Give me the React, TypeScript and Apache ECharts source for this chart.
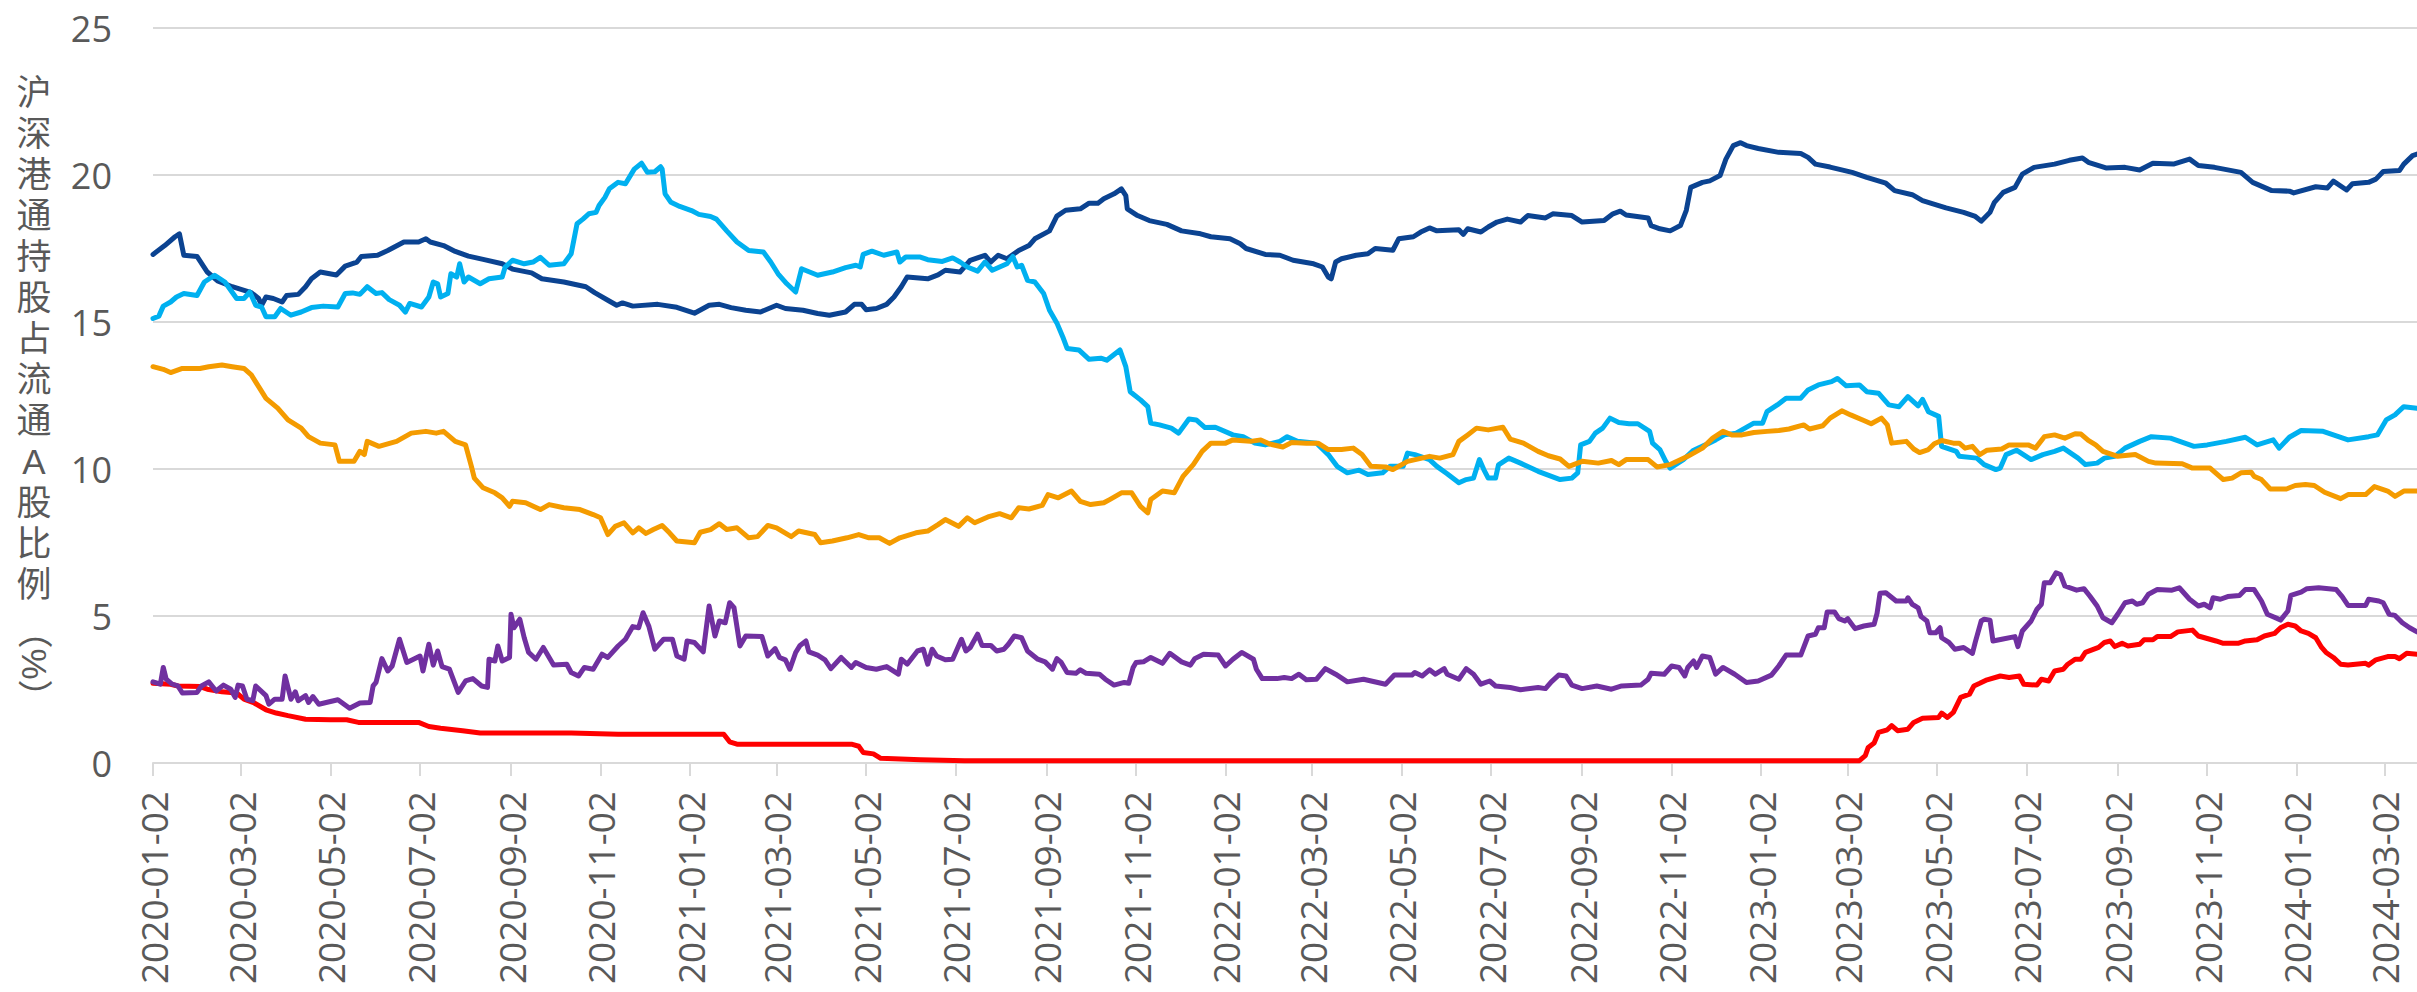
import React, { useEffect, useRef } from "react";
import * as echarts from "echarts";

// ---------- data ----------
const tickDates: string[] = [
  "2020-01-02", "2020-03-02", "2020-05-02", "2020-07-02", "2020-09-02", "2020-11-02",
  "2021-01-02", "2021-03-02", "2021-05-02", "2021-07-02", "2021-09-02", "2021-11-02",
  "2022-01-02", "2022-03-02", "2022-05-02", "2022-07-02", "2022-09-02", "2022-11-02",
  "2023-01-02", "2023-03-02", "2023-05-02", "2023-07-02", "2023-09-02", "2023-11-02",
  "2024-01-02", "2024-03-02",
];
const yTicks: number[] = [0, 5, 10, 15, 20, 25];
const startDate = "2020-01-02";
const endDate = "2024-03-24";

const yTitle = "沪深港通持股占流通A股比例";
const yTitleUnit = "（%）";

const navy: [string, number][] = [
  ["2020-01-02", 17.3], ["2020-01-10", 17.6], ["2020-01-17", 17.9], ["2020-01-20", 18.0], ["2020-01-23", 17.27],
  ["2020-02-01", 17.23], ["2020-02-08", 16.7], ["2020-02-15", 16.4], ["2020-02-25", 16.2], ["2020-03-09", 16.0],
  ["2020-03-14", 15.8], ["2020-03-16", 15.57], ["2020-03-19", 15.85], ["2020-03-24", 15.8], ["2020-03-30", 15.68],
  ["2020-04-02", 15.9], ["2020-04-10", 15.94], ["2020-04-15", 16.2], ["2020-04-19", 16.47], ["2020-04-25", 16.7],
  ["2020-05-06", 16.6], ["2020-05-12", 16.9], ["2020-05-20", 17.04], ["2020-05-23", 17.23], ["2020-06-03", 17.27],
  ["2020-06-10", 17.43], ["2020-06-21", 17.72], ["2020-07-01", 17.72], ["2020-07-06", 17.83], ["2020-07-09", 17.72],
  ["2020-07-18", 17.6], ["2020-07-26", 17.4], ["2020-08-04", 17.24], ["2020-08-14", 17.13], ["2020-08-27", 16.98],
  ["2020-09-03", 16.8], ["2020-09-16", 16.67], ["2020-09-23", 16.47], ["2020-10-08", 16.36], ["2020-10-23", 16.2],
  ["2020-10-29", 16.0], ["2020-11-07", 15.74], ["2020-11-13", 15.57], ["2020-11-17", 15.65], ["2020-11-24", 15.54],
  ["2020-12-11", 15.6], ["2020-12-24", 15.5], ["2021-01-05", 15.3], ["2021-01-15", 15.57], ["2021-01-22", 15.6],
  ["2021-01-30", 15.49], ["2021-02-09", 15.4], ["2021-02-19", 15.34], ["2021-03-02", 15.57], ["2021-03-08", 15.46],
  ["2021-03-20", 15.4], ["2021-03-30", 15.29], ["2021-04-07", 15.23], ["2021-04-18", 15.34], ["2021-04-24", 15.6],
  ["2021-04-29", 15.6], ["2021-05-02", 15.42], ["2021-05-09", 15.46], ["2021-05-16", 15.6], ["2021-05-21", 15.85],
  ["2021-05-26", 16.2], ["2021-05-30", 16.53], ["2021-06-13", 16.47], ["2021-06-20", 16.6], ["2021-06-25", 16.76],
  ["2021-07-05", 16.7], ["2021-07-12", 17.1], ["2021-07-22", 17.27], ["2021-07-26", 17.04], ["2021-07-31", 17.27],
  ["2021-08-06", 17.15], ["2021-08-14", 17.43], ["2021-08-21", 17.6], ["2021-08-25", 17.83], ["2021-09-04", 18.1],
  ["2021-09-09", 18.6], ["2021-09-15", 18.8], ["2021-09-25", 18.85], ["2021-10-01", 19.04], ["2021-10-07", 19.04],
  ["2021-10-11", 19.19], ["2021-10-18", 19.36], ["2021-10-23", 19.53], ["2021-10-26", 19.3], ["2021-10-27", 18.85],
  ["2021-11-03", 18.62], ["2021-11-11", 18.45], ["2021-11-23", 18.32], ["2021-12-03", 18.1], ["2021-12-16", 18.0],
  ["2021-12-23", 17.9], ["2022-01-05", 17.83], ["2022-01-12", 17.66], ["2022-01-16", 17.5], ["2022-01-29", 17.3],
  ["2022-02-08", 17.27], ["2022-02-17", 17.1], ["2022-03-03", 16.98], ["2022-03-09", 16.87], ["2022-03-13", 16.53],
  ["2022-03-15", 16.47], ["2022-03-18", 17.04], ["2022-03-22", 17.15], ["2022-04-01", 17.27], ["2022-04-09", 17.32],
  ["2022-04-14", 17.5], ["2022-04-26", 17.44], ["2022-04-30", 17.83], ["2022-05-10", 17.9], ["2022-05-15", 18.06],
  ["2022-05-21", 18.2], ["2022-05-26", 18.1], ["2022-06-10", 18.14], ["2022-06-13", 17.98], ["2022-06-16", 18.17],
  ["2022-06-25", 18.06], ["2022-06-30", 18.23], ["2022-07-06", 18.4], ["2022-07-13", 18.5], ["2022-07-22", 18.4],
  ["2022-07-27", 18.62], ["2022-08-08", 18.54], ["2022-08-13", 18.68], ["2022-08-26", 18.62], ["2022-09-02", 18.4],
  ["2022-09-17", 18.45], ["2022-09-23", 18.68], ["2022-09-28", 18.77], ["2022-10-02", 18.64], ["2022-10-17", 18.54],
  ["2022-10-19", 18.28], ["2022-10-25", 18.17], ["2022-11-01", 18.1], ["2022-11-08", 18.28], ["2022-11-12", 18.8],
  ["2022-11-15", 19.58], ["2022-11-23", 19.75], ["2022-11-28", 19.8], ["2022-12-05", 19.98], ["2022-12-09", 20.54],
  ["2022-12-14", 21.0], ["2022-12-19", 21.1], ["2022-12-23", 21.0], ["2022-12-31", 20.9], ["2023-01-14", 20.77],
  ["2023-01-29", 20.73], ["2023-02-03", 20.6], ["2023-02-08", 20.37], ["2023-02-18", 20.27], ["2023-03-05", 20.09],
  ["2023-03-15", 19.92], ["2023-03-28", 19.72], ["2023-04-03", 19.47], ["2023-04-15", 19.33], ["2023-04-22", 19.13],
  ["2023-05-03", 18.96], ["2023-05-08", 18.88], ["2023-05-20", 18.73], ["2023-05-28", 18.59], ["2023-06-01", 18.43],
  ["2023-06-07", 18.73], ["2023-06-10", 19.07], ["2023-06-16", 19.41], ["2023-06-24", 19.58], ["2023-06-29", 20.03],
  ["2023-07-07", 20.26], ["2023-07-21", 20.37], ["2023-07-31", 20.5], ["2023-08-09", 20.58], ["2023-08-13", 20.43],
  ["2023-08-25", 20.24], ["2023-09-07", 20.26], ["2023-09-17", 20.17], ["2023-09-26", 20.4], ["2023-10-10", 20.37],
  ["2023-10-21", 20.54], ["2023-10-27", 20.32], ["2023-11-07", 20.26], ["2023-11-25", 20.09], ["2023-12-03", 19.75],
  ["2023-12-16", 19.47], ["2023-12-28", 19.45], ["2023-12-31", 19.39], ["2024-01-15", 19.6], ["2024-01-23", 19.56],
  ["2024-01-27", 19.79], ["2024-02-05", 19.49], ["2024-02-09", 19.7], ["2024-02-20", 19.75], ["2024-02-25", 19.86],
  ["2024-03-01", 20.12], ["2024-03-12", 20.15], ["2024-03-15", 20.37], ["2024-03-21", 20.66], ["2024-03-24", 20.71],
];

const lightBlue: [string, number][] = [
  ["2020-01-02", 15.12], ["2020-01-06", 15.2], ["2020-01-09", 15.54], ["2020-01-14", 15.68], ["2020-01-18", 15.85],
  ["2020-01-23", 15.97], ["2020-02-01", 15.9], ["2020-02-06", 16.36], ["2020-02-13", 16.59], ["2020-02-20", 16.36],
  ["2020-02-28", 15.8], ["2020-03-04", 15.8], ["2020-03-08", 16.02], ["2020-03-12", 15.57], ["2020-03-16", 15.51],
  ["2020-03-19", 15.18], ["2020-03-25", 15.18], ["2020-03-29", 15.46], ["2020-04-05", 15.23], ["2020-04-12", 15.34],
  ["2020-04-19", 15.49], ["2020-04-27", 15.54], ["2020-05-07", 15.51], ["2020-05-12", 15.97], ["2020-05-17", 15.99],
  ["2020-05-22", 15.94], ["2020-05-27", 16.2], ["2020-06-02", 15.97], ["2020-06-06", 16.0], ["2020-06-11", 15.76],
  ["2020-06-18", 15.57], ["2020-06-22", 15.34], ["2020-06-25", 15.63], ["2020-07-03", 15.51], ["2020-07-08", 15.85],
  ["2020-07-11", 16.36], ["2020-07-14", 16.3], ["2020-07-16", 15.85], ["2020-07-21", 15.97], ["2020-07-23", 16.64],
  ["2020-07-27", 16.53], ["2020-07-29", 16.98], ["2020-08-01", 16.36], ["2020-08-04", 16.53], ["2020-08-12", 16.3],
  ["2020-08-18", 16.47], ["2020-08-27", 16.53], ["2020-08-29", 16.87], ["2020-09-03", 17.1], ["2020-09-11", 16.98],
  ["2020-09-17", 17.04], ["2020-09-22", 17.2], ["2020-09-28", 16.93], ["2020-10-08", 16.98], ["2020-10-13", 17.32],
  ["2020-10-17", 18.34], ["2020-10-21", 18.5], ["2020-10-25", 18.68], ["2020-10-30", 18.73], ["2020-11-01", 18.96],
  ["2020-11-05", 19.24], ["2020-11-08", 19.53], ["2020-11-14", 19.75], ["2020-11-19", 19.7], ["2020-11-25", 20.2],
  ["2020-11-30", 20.4], ["2020-12-04", 20.09], ["2020-12-09", 20.11], ["2020-12-13", 20.28], ["2020-12-14", 20.2],
  ["2020-12-16", 19.36], ["2020-12-20", 19.07], ["2020-12-26", 18.93], ["2021-01-03", 18.79], ["2021-01-08", 18.66],
  ["2021-01-16", 18.59], ["2021-01-20", 18.5], ["2021-01-27", 18.1], ["2021-02-03", 17.72], ["2021-02-11", 17.43],
  ["2021-02-21", 17.38], ["2021-02-26", 17.04], ["2021-03-03", 16.64], ["2021-03-09", 16.3], ["2021-03-15", 16.02],
  ["2021-03-19", 16.81], ["2021-03-30", 16.59], ["2021-04-09", 16.7], ["2021-04-18", 16.85], ["2021-04-25", 16.93],
  ["2021-04-28", 16.87], ["2021-04-30", 17.3], ["2021-05-06", 17.41], ["2021-05-14", 17.27], ["2021-05-23", 17.38],
  ["2021-05-25", 17.04], ["2021-05-29", 17.21], ["2021-06-08", 17.21], ["2021-06-13", 17.12], ["2021-06-23", 17.06],
  ["2021-06-30", 17.18], ["2021-07-05", 17.04], ["2021-07-10", 16.87], ["2021-07-17", 16.73], ["2021-07-22", 17.04],
  ["2021-07-27", 16.76], ["2021-08-01", 16.87], ["2021-08-06", 16.98], ["2021-08-10", 17.23], ["2021-08-13", 16.87],
  ["2021-08-16", 16.93], ["2021-08-20", 16.42], ["2021-08-25", 16.36], ["2021-08-31", 15.97], ["2021-09-04", 15.4],
  ["2021-09-09", 14.97], ["2021-09-13", 14.5], ["2021-09-16", 14.1], ["2021-09-24", 14.05], ["2021-10-01", 13.73],
  ["2021-10-09", 13.77], ["2021-10-13", 13.7], ["2021-10-22", 14.05], ["2021-10-26", 13.48], ["2021-10-29", 12.63],
  ["2021-11-05", 12.35], ["2021-11-10", 12.12], ["2021-11-12", 11.56], ["2021-11-18", 11.5], ["2021-11-26", 11.39],
  ["2021-12-01", 11.22], ["2021-12-08", 11.7], ["2021-12-13", 11.67], ["2021-12-19", 11.41], ["2021-12-26", 11.42],
  ["2022-01-07", 11.16], ["2022-01-14", 11.1], ["2022-01-22", 10.88], ["2022-01-29", 10.82], ["2022-02-08", 10.94],
  ["2022-02-13", 11.1], ["2022-02-20", 10.94], ["2022-03-05", 10.88], ["2022-03-13", 10.49], ["2022-03-19", 10.09],
  ["2022-03-26", 9.87], ["2022-04-03", 9.96], ["2022-04-09", 9.81], ["2022-04-19", 9.87], ["2022-04-24", 10.09],
  ["2022-05-03", 10.09], ["2022-05-06", 10.54], ["2022-05-11", 10.49], ["2022-05-21", 10.32], ["2022-05-26", 10.09],
  ["2022-06-02", 9.84], ["2022-06-10", 9.53], ["2022-06-15", 9.64], ["2022-06-20", 9.69], ["2022-06-24", 10.32],
  ["2022-06-27", 9.98], ["2022-06-30", 9.69], ["2022-07-05", 9.69], ["2022-07-07", 10.14], ["2022-07-14", 10.37],
  ["2022-07-22", 10.2], ["2022-08-03", 9.92], ["2022-08-18", 9.64], ["2022-08-26", 9.69], ["2022-08-30", 9.87],
  ["2022-09-01", 10.82], ["2022-09-07", 10.94], ["2022-09-11", 11.22], ["2022-09-16", 11.39], ["2022-09-21", 11.73],
  ["2022-09-27", 11.58], ["2022-10-04", 11.54], ["2022-10-10", 11.54], ["2022-10-18", 11.28], ["2022-10-20", 10.88],
  ["2022-10-25", 10.66], ["2022-10-29", 10.26], ["2022-11-01", 10.03], ["2022-11-10", 10.32], ["2022-11-17", 10.64],
  ["2022-11-25", 10.82], ["2022-12-02", 10.99], ["2022-12-08", 11.16], ["2022-12-16", 11.22], ["2022-12-28", 11.56],
  ["2023-01-03", 11.56], ["2023-01-06", 11.95], ["2023-01-13", 12.18], ["2023-01-19", 12.41], ["2023-01-29", 12.41],
  ["2023-02-03", 12.69], ["2023-02-10", 12.86], ["2023-02-19", 12.97], ["2023-02-23", 13.08], ["2023-03-01", 12.83],
  ["2023-03-10", 12.86], ["2023-03-15", 12.63], ["2023-03-23", 12.58], ["2023-03-30", 12.18], ["2023-04-06", 12.12],
  ["2023-04-12", 12.46], ["2023-04-19", 12.15], ["2023-04-22", 12.37], ["2023-04-26", 11.95], ["2023-05-03", 11.79],
  ["2023-05-05", 10.77], ["2023-05-15", 10.6], ["2023-05-17", 10.43], ["2023-05-29", 10.37], ["2023-06-03", 10.15],
  ["2023-06-11", 9.98], ["2023-06-14", 10.03], ["2023-06-18", 10.49], ["2023-06-25", 10.64], ["2023-07-05", 10.32],
  ["2023-07-13", 10.49], ["2023-07-21", 10.6], ["2023-07-27", 10.71], ["2023-08-06", 10.37], ["2023-08-11", 10.15],
  ["2023-08-19", 10.2], ["2023-08-24", 10.37], ["2023-08-31", 10.43], ["2023-09-07", 10.71], ["2023-09-17", 10.94],
  ["2023-09-25", 11.1], ["2023-10-08", 11.05], ["2023-10-24", 10.77], ["2023-11-02", 10.82], ["2023-11-15", 10.94],
  ["2023-11-28", 11.08], ["2023-12-06", 10.82], ["2023-12-17", 10.99], ["2023-12-21", 10.71], ["2023-12-28", 11.08],
  ["2024-01-05", 11.31], ["2024-01-20", 11.28], ["2024-01-27", 11.16], ["2024-02-06", 10.99], ["2024-02-20", 11.1],
  ["2024-02-26", 11.16], ["2024-03-03", 11.67], ["2024-03-09", 11.84], ["2024-03-15", 12.12], ["2024-03-24", 12.07],
];

const orange: [string, number][] = [
  ["2020-01-02", 13.48], ["2020-01-09", 13.39], ["2020-01-14", 13.28], ["2020-01-22", 13.42], ["2020-02-03", 13.42],
  ["2020-02-09", 13.48], ["2020-02-18", 13.54], ["2020-02-25", 13.48], ["2020-03-04", 13.42], ["2020-03-09", 13.2],
  ["2020-03-14", 12.8], ["2020-03-19", 12.4], ["2020-03-27", 12.07], ["2020-04-03", 11.67], ["2020-04-12", 11.39],
  ["2020-04-17", 11.1], ["2020-04-25", 10.88], ["2020-05-05", 10.82], ["2020-05-08", 10.26], ["2020-05-18", 10.26],
  ["2020-05-22", 10.6], ["2020-05-25", 10.49], ["2020-05-27", 10.94], ["2020-06-04", 10.77], ["2020-06-16", 10.94],
  ["2020-06-26", 11.22], ["2020-07-06", 11.28], ["2020-07-13", 11.22], ["2020-07-18", 11.28], ["2020-07-26", 10.94],
  ["2020-08-02", 10.82], ["2020-08-06", 10.09], ["2020-08-08", 9.69], ["2020-08-14", 9.36], ["2020-08-22", 9.19],
  ["2020-08-27", 9.02], ["2020-09-01", 8.73], ["2020-09-03", 8.9], ["2020-09-12", 8.85], ["2020-09-22", 8.62],
  ["2020-09-28", 8.79], ["2020-10-08", 8.68], ["2020-10-19", 8.62], ["2020-10-28", 8.45], ["2020-11-02", 8.34],
  ["2020-11-07", 7.77], ["2020-11-12", 8.05], ["2020-11-18", 8.17], ["2020-11-24", 7.83], ["2020-11-28", 8.0],
  ["2020-12-03", 7.81], ["2020-12-08", 7.94], ["2020-12-14", 8.08], ["2020-12-19", 7.83], ["2020-12-24", 7.55],
  ["2021-01-05", 7.49], ["2021-01-09", 7.85], ["2021-01-16", 7.94], ["2021-01-22", 8.14], ["2021-01-27", 7.94],
  ["2021-02-03", 8.0], ["2021-02-11", 7.66], ["2021-02-17", 7.7], ["2021-02-24", 8.08], ["2021-03-02", 8.0],
  ["2021-03-12", 7.7], ["2021-03-17", 7.89], ["2021-03-28", 7.77], ["2021-04-01", 7.49], ["2021-04-09", 7.55],
  ["2021-04-19", 7.66], ["2021-04-27", 7.77], ["2021-05-04", 7.66], ["2021-05-11", 7.66], ["2021-05-18", 7.47],
  ["2021-05-25", 7.66], ["2021-06-05", 7.83], ["2021-06-13", 7.89], ["2021-06-20", 8.11], ["2021-06-25", 8.28],
  ["2021-07-04", 8.05], ["2021-07-10", 8.34], ["2021-07-15", 8.17], ["2021-07-24", 8.37], ["2021-08-01", 8.48],
  ["2021-08-09", 8.34], ["2021-08-14", 8.68], ["2021-08-21", 8.64], ["2021-08-30", 8.76], ["2021-09-03", 9.13],
  ["2021-09-10", 9.02], ["2021-09-19", 9.25], ["2021-09-25", 8.9], ["2021-10-02", 8.79], ["2021-10-11", 8.85],
  ["2021-10-15", 8.96], ["2021-10-23", 9.19], ["2021-10-30", 9.19], ["2021-11-05", 8.73], ["2021-11-10", 8.51],
  ["2021-11-12", 8.96], ["2021-11-20", 9.25], ["2021-11-28", 9.19], ["2021-12-04", 9.75], ["2021-12-11", 10.15],
  ["2021-12-17", 10.6], ["2021-12-23", 10.88], ["2022-01-02", 10.88], ["2022-01-07", 10.99], ["2022-01-19", 10.94],
  ["2022-01-26", 10.99], ["2022-02-01", 10.85], ["2022-02-10", 10.75], ["2022-02-16", 10.9], ["2022-02-26", 10.88],
  ["2022-03-06", 10.88], ["2022-03-13", 10.66], ["2022-03-22", 10.66], ["2022-03-30", 10.71], ["2022-04-05", 10.49],
  ["2022-04-11", 10.09], ["2022-04-21", 10.07], ["2022-04-26", 9.98], ["2022-05-06", 10.26], ["2022-05-21", 10.43],
  ["2022-05-28", 10.37], ["2022-06-06", 10.49], ["2022-06-10", 10.94], ["2022-06-16", 11.16], ["2022-06-22", 11.39],
  ["2022-06-30", 11.33], ["2022-07-10", 11.42], ["2022-07-15", 11.02], ["2022-07-24", 10.88], ["2022-08-03", 10.6],
  ["2022-08-10", 10.45], ["2022-08-18", 10.34], ["2022-08-24", 10.09], ["2022-09-02", 10.26], ["2022-09-13", 10.2],
  ["2022-09-22", 10.29], ["2022-09-27", 10.15], ["2022-10-02", 10.32], ["2022-10-17", 10.32], ["2022-10-23", 10.07],
  ["2022-11-01", 10.15], ["2022-11-13", 10.43], ["2022-11-23", 10.71], ["2022-11-30", 11.05], ["2022-12-07", 11.28],
  ["2022-12-13", 11.16], ["2022-12-20", 11.16], ["2022-12-28", 11.24], ["2023-01-06", 11.28], ["2023-01-14", 11.31],
  ["2023-01-21", 11.36], ["2023-01-31", 11.5], ["2023-02-04", 11.36], ["2023-02-13", 11.47], ["2023-02-18", 11.73],
  ["2023-02-26", 11.98], ["2023-03-04", 11.84], ["2023-03-13", 11.65], ["2023-03-18", 11.54], ["2023-03-25", 11.73],
  ["2023-03-29", 11.5], ["2023-04-01", 10.88], ["2023-04-11", 10.94], ["2023-04-16", 10.68], ["2023-04-20", 10.56],
  ["2023-04-26", 10.66], ["2023-04-30", 10.86], ["2023-05-05", 10.97], ["2023-05-13", 10.88], ["2023-05-17", 10.88],
  ["2023-05-21", 10.71], ["2023-05-26", 10.77], ["2023-05-31", 10.49], ["2023-06-05", 10.64], ["2023-06-15", 10.68],
  ["2023-06-20", 10.82], ["2023-07-03", 10.82], ["2023-07-08", 10.71], ["2023-07-14", 11.1], ["2023-07-21", 11.16],
  ["2023-07-28", 11.05], ["2023-08-04", 11.2], ["2023-08-08", 11.19], ["2023-08-13", 10.97], ["2023-08-18", 10.82],
  ["2023-08-23", 10.6], ["2023-09-02", 10.43], ["2023-09-14", 10.49], ["2023-09-23", 10.26], ["2023-09-28", 10.2],
  ["2023-10-16", 10.18], ["2023-10-23", 10.03], ["2023-11-04", 10.03], ["2023-11-13", 9.64], ["2023-11-19", 9.69],
  ["2023-11-25", 9.87], ["2023-12-02", 9.89], ["2023-12-04", 9.75], ["2023-12-09", 9.64], ["2023-12-15", 9.32],
  ["2023-12-26", 9.32], ["2024-01-01", 9.44], ["2024-01-08", 9.47], ["2024-01-14", 9.44], ["2024-01-21", 9.21],
  ["2024-02-01", 8.99], ["2024-02-06", 9.13], ["2024-02-18", 9.13], ["2024-02-24", 9.4], ["2024-03-04", 9.25],
  ["2024-03-09", 9.07], ["2024-03-15", 9.25], ["2024-03-24", 9.25],
];

const purple: [string, number][] = [
  ["2020-01-02", 2.76], ["2020-01-07", 2.68], ["2020-01-09", 3.25], ["2020-01-11", 2.85], ["2020-01-15", 2.68],
  ["2020-01-19", 2.62], ["2020-01-22", 2.38], ["2020-02-01", 2.4], ["2020-02-04", 2.62], ["2020-02-09", 2.76],
  ["2020-02-14", 2.45], ["2020-02-19", 2.65], ["2020-02-24", 2.51], ["2020-02-27", 2.23], ["2020-02-29", 2.65],
  ["2020-03-03", 2.62], ["2020-03-06", 2.17], ["2020-03-10", 2.12], ["2020-03-12", 2.62], ["2020-03-19", 2.29],
  ["2020-03-21", 2.0], ["2020-03-25", 2.17], ["2020-03-30", 2.17], ["2020-04-01", 2.96], ["2020-04-05", 2.17],
  ["2020-04-08", 2.42], ["2020-04-10", 2.12], ["2020-04-15", 2.29], ["2020-04-17", 2.06], ["2020-04-20", 2.26],
  ["2020-04-24", 2.0], ["2020-05-07", 2.15], ["2020-05-15", 1.86], ["2020-05-22", 2.04], ["2020-05-29", 2.06],
  ["2020-05-31", 2.62], ["2020-06-02", 2.74], ["2020-06-06", 3.55], ["2020-06-10", 3.13], ["2020-06-13", 3.3],
  ["2020-06-18", 4.21], ["2020-06-23", 3.42], ["2020-07-02", 3.64], ["2020-07-04", 3.13], ["2020-07-08", 4.04],
  ["2020-07-11", 3.33], ["2020-07-14", 3.81], ["2020-07-17", 3.28], ["2020-07-22", 3.19], ["2020-07-28", 2.4],
  ["2020-08-02", 2.79], ["2020-08-07", 2.87], ["2020-08-13", 2.62], ["2020-08-17", 2.57], ["2020-08-18", 3.53],
  ["2020-08-22", 3.47], ["2020-08-24", 3.98], ["2020-08-27", 3.47], ["2020-09-01", 3.59], ["2020-09-02", 5.06],
  ["2020-09-04", 4.6], ["2020-09-08", 4.89], ["2020-09-11", 4.26], ["2020-09-14", 3.76], ["2020-09-19", 3.53],
  ["2020-09-24", 3.93], ["2020-10-01", 3.33], ["2020-10-10", 3.36], ["2020-10-13", 3.08], ["2020-10-18", 2.96],
  ["2020-10-22", 3.25], ["2020-10-28", 3.19], ["2020-11-03", 3.7], ["2020-11-07", 3.59], ["2020-11-14", 3.98],
  ["2020-11-19", 4.21], ["2020-11-24", 4.64], ["2020-11-28", 4.6], ["2020-12-01", 5.11], ["2020-12-05", 4.64],
  ["2020-12-09", 3.87], ["2020-12-15", 4.21], ["2020-12-21", 4.21], ["2020-12-24", 3.64], ["2020-12-29", 3.53],
  ["2020-12-31", 4.15], ["2021-01-05", 4.1], ["2021-01-11", 3.78], ["2021-01-15", 5.34], ["2021-01-19", 4.32],
  ["2021-01-22", 4.83], ["2021-01-26", 4.77], ["2021-01-29", 5.45], ["2021-02-01", 5.28], ["2021-02-05", 3.98],
  ["2021-02-09", 4.32], ["2021-02-20", 4.3], ["2021-02-24", 3.64], ["2021-03-01", 3.89], ["2021-03-04", 3.59],
  ["2021-03-08", 3.51], ["2021-03-11", 3.19], ["2021-03-15", 3.76], ["2021-03-18", 4.0], ["2021-03-22", 4.15],
  ["2021-03-24", 3.78], ["2021-03-30", 3.67], ["2021-04-04", 3.51], ["2021-04-08", 3.21], ["2021-04-15", 3.59],
  ["2021-04-22", 3.25], ["2021-04-25", 3.42], ["2021-05-02", 3.25], ["2021-05-09", 3.19], ["2021-05-16", 3.28],
  ["2021-05-24", 3.02], ["2021-05-26", 3.53], ["2021-05-30", 3.36], ["2021-06-06", 3.81], ["2021-06-10", 3.87],
  ["2021-06-13", 3.36], ["2021-06-16", 3.87], ["2021-06-19", 3.64], ["2021-06-25", 3.51], ["2021-06-30", 3.53],
  ["2021-07-06", 4.21], ["2021-07-09", 3.81], ["2021-07-12", 3.93], ["2021-07-17", 4.38], ["2021-07-20", 4.0],
  ["2021-07-26", 4.0], ["2021-07-30", 3.81], ["2021-08-04", 3.87], ["2021-08-07", 4.04], ["2021-08-11", 4.32],
  ["2021-08-16", 4.26], ["2021-08-20", 3.81], ["2021-08-27", 3.53], ["2021-09-01", 3.44], ["2021-09-06", 3.19],
  ["2021-09-09", 3.55], ["2021-09-12", 3.42], ["2021-09-16", 3.08], ["2021-09-22", 3.05], ["2021-09-25", 3.17],
  ["2021-09-29", 3.05], ["2021-10-08", 3.02], ["2021-10-12", 2.85], ["2021-10-18", 2.65], ["2021-10-25", 2.74],
  ["2021-10-28", 2.71], ["2021-10-31", 3.25], ["2021-11-02", 3.42], ["2021-11-07", 3.44], ["2021-11-12", 3.59],
  ["2021-11-20", 3.39], ["2021-11-25", 3.73], ["2021-12-03", 3.44], ["2021-12-09", 3.33], ["2021-12-12", 3.55],
  ["2021-12-18", 3.7], ["2021-12-28", 3.67], ["2022-01-02", 3.3], ["2022-01-07", 3.53], ["2022-01-13", 3.76],
  ["2022-01-21", 3.53], ["2022-01-23", 3.19], ["2022-01-27", 2.87], ["2022-02-06", 2.87], ["2022-02-11", 2.91],
  ["2022-02-16", 2.87], ["2022-02-21", 3.02], ["2022-02-26", 2.83], ["2022-03-05", 2.85], ["2022-03-11", 3.21],
  ["2022-03-18", 3.02], ["2022-03-26", 2.76], ["2022-04-06", 2.85], ["2022-04-21", 2.68], ["2022-04-27", 2.99],
  ["2022-05-09", 2.99], ["2022-05-11", 3.08], ["2022-05-16", 2.96], ["2022-05-21", 3.17], ["2022-05-25", 3.02],
  ["2022-05-31", 3.21], ["2022-06-02", 3.02], ["2022-06-10", 2.85], ["2022-06-15", 3.21], ["2022-06-20", 3.02],
  ["2022-06-25", 2.68], ["2022-07-01", 2.79], ["2022-07-05", 2.62], ["2022-07-15", 2.57], ["2022-07-22", 2.49],
  ["2022-08-03", 2.57], ["2022-08-08", 2.53], ["2022-08-12", 2.76], ["2022-08-17", 2.99], ["2022-08-22", 2.96],
  ["2022-08-26", 2.65], ["2022-09-02", 2.53], ["2022-09-12", 2.62], ["2022-09-22", 2.51], ["2022-09-29", 2.62],
  ["2022-10-12", 2.65], ["2022-10-17", 2.85], ["2022-10-19", 3.05], ["2022-10-28", 3.02], ["2022-11-02", 3.3],
  ["2022-11-07", 3.25], ["2022-11-11", 2.96], ["2022-11-13", 3.25], ["2022-11-17", 3.47], ["2022-11-19", 3.25],
  ["2022-11-23", 3.64], ["2022-11-28", 3.59], ["2022-12-02", 3.02], ["2022-12-07", 3.25], ["2022-12-15", 3.02],
  ["2022-12-23", 2.74], ["2022-12-31", 2.79], ["2023-01-09", 2.99], ["2023-01-14", 3.3], ["2023-01-19", 3.67],
  ["2023-01-29", 3.67], ["2023-02-03", 4.32], ["2023-02-08", 4.38], ["2023-02-10", 4.6], ["2023-02-14", 4.6],
  ["2023-02-16", 5.14], ["2023-02-21", 5.14], ["2023-02-24", 4.91], ["2023-02-28", 4.83], ["2023-03-02", 4.91],
  ["2023-03-07", 4.57], ["2023-03-13", 4.66], ["2023-03-20", 4.72], ["2023-03-22", 5.09], ["2023-03-24", 5.77],
  ["2023-03-28", 5.79], ["2023-04-04", 5.51], ["2023-04-11", 5.51], ["2023-04-12", 5.62], ["2023-04-15", 5.4],
  ["2023-04-19", 5.28], ["2023-04-21", 4.98], ["2023-04-25", 4.83], ["2023-04-27", 4.43], ["2023-05-01", 4.43],
  ["2023-05-04", 4.6], ["2023-05-05", 4.26], ["2023-05-10", 4.1], ["2023-05-14", 3.87], ["2023-05-20", 3.93],
  ["2023-05-26", 3.73], ["2023-05-28", 4.12], ["2023-06-01", 4.83], ["2023-06-03", 4.89], ["2023-06-07", 4.86],
  ["2023-06-09", 4.15], ["2023-06-15", 4.21], ["2023-06-24", 4.3], ["2023-06-26", 3.96], ["2023-06-29", 4.49],
  ["2023-07-05", 4.83], ["2023-07-09", 5.23], ["2023-07-12", 5.4], ["2023-07-14", 6.13], ["2023-07-18", 6.13],
  ["2023-07-22", 6.47], ["2023-07-25", 6.41], ["2023-07-28", 6.02], ["2023-08-05", 5.88], ["2023-08-10", 5.93],
  ["2023-08-14", 5.68], ["2023-08-19", 5.34], ["2023-08-23", 4.94], ["2023-08-29", 4.77], ["2023-09-02", 5.06],
  ["2023-09-07", 5.45], ["2023-09-12", 5.51], ["2023-09-15", 5.4], ["2023-09-19", 5.45], ["2023-09-23", 5.74],
  ["2023-09-29", 5.9], ["2023-10-09", 5.88], ["2023-10-14", 5.96], ["2023-10-21", 5.57], ["2023-10-27", 5.34],
  ["2023-10-31", 5.4], ["2023-11-04", 5.28], ["2023-11-06", 5.62], ["2023-11-11", 5.57], ["2023-11-16", 5.66],
  ["2023-11-24", 5.7], ["2023-11-28", 5.9], ["2023-12-04", 5.9], ["2023-12-09", 5.51], ["2023-12-13", 5.06],
  ["2023-12-20", 4.91], ["2023-12-22", 4.86], ["2023-12-27", 5.17], ["2023-12-29", 5.7], ["2024-01-05", 5.81],
  ["2024-01-09", 5.93], ["2024-01-17", 5.96], ["2024-01-29", 5.9], ["2024-02-02", 5.66], ["2024-02-06", 5.36],
  ["2024-02-18", 5.36], ["2024-02-20", 5.57], ["2024-02-27", 5.51], ["2024-03-01", 5.45], ["2024-03-05", 5.06],
  ["2024-03-09", 5.02], ["2024-03-14", 4.77], ["2024-03-19", 4.6], ["2024-03-24", 4.46],
];

const red: [string, number][] = [
  ["2020-01-02", 2.71], ["2020-01-14", 2.68], ["2020-01-19", 2.62], ["2020-02-03", 2.6], ["2020-02-08", 2.51],
  ["2020-02-18", 2.42], ["2020-02-28", 2.38], ["2020-03-04", 2.17], ["2020-03-11", 2.04], ["2020-03-19", 1.81],
  ["2020-03-26", 1.7], ["2020-04-03", 1.61], ["2020-04-15", 1.49], ["2020-05-02", 1.47], ["2020-05-13", 1.47],
  ["2020-05-21", 1.38], ["2020-07-01", 1.38], ["2020-07-08", 1.24], ["2020-07-16", 1.18], ["2020-07-31", 1.1],
  ["2020-08-12", 1.02], ["2020-10-13", 1.02], ["2020-11-14", 0.98], ["2021-01-25", 0.98], ["2021-01-29", 0.72],
  ["2021-02-03", 0.64], ["2021-04-22", 0.64], ["2021-04-27", 0.57], ["2021-04-30", 0.36], ["2021-05-07", 0.31],
  ["2021-05-12", 0.16], ["2021-06-08", 0.11], ["2021-07-08", 0.08], ["2023-03-10", 0.08], ["2023-03-14", 0.25],
  ["2023-03-16", 0.53], ["2023-03-20", 0.68], ["2023-03-23", 1.04], ["2023-03-29", 1.13], ["2023-04-01", 1.27],
  ["2023-04-05", 1.1], ["2023-04-12", 1.15], ["2023-04-16", 1.38], ["2023-04-22", 1.52], ["2023-05-03", 1.55],
  ["2023-05-05", 1.7], ["2023-05-09", 1.55], ["2023-05-13", 1.72], ["2023-05-18", 2.23], ["2023-05-24", 2.34],
  ["2023-05-27", 2.62], ["2023-05-31", 2.71], ["2023-06-05", 2.83], ["2023-06-14", 2.96], ["2023-06-20", 2.91],
  ["2023-06-27", 2.96], ["2023-06-30", 2.68], ["2023-07-09", 2.65], ["2023-07-12", 2.85], ["2023-07-17", 2.79],
  ["2023-07-21", 3.13], ["2023-07-27", 3.19], ["2023-07-30", 3.36], ["2023-08-04", 3.53], ["2023-08-08", 3.53],
  ["2023-08-11", 3.76], ["2023-08-20", 3.93], ["2023-08-24", 4.1], ["2023-08-28", 4.15], ["2023-08-31", 3.96],
  ["2023-09-05", 4.07], ["2023-09-09", 3.98], ["2023-09-17", 4.04], ["2023-09-20", 4.19], ["2023-09-26", 4.19],
  ["2023-09-29", 4.3], ["2023-10-08", 4.3], ["2023-10-13", 4.46], ["2023-10-23", 4.52], ["2023-10-27", 4.32],
  ["2023-11-08", 4.15], ["2023-11-13", 4.07], ["2023-11-23", 4.07], ["2023-11-28", 4.15], ["2023-12-06", 4.19],
  ["2023-12-11", 4.32], ["2023-12-18", 4.41], ["2023-12-22", 4.6], ["2023-12-27", 4.72], ["2024-01-01", 4.66],
  ["2024-01-05", 4.49], ["2024-01-10", 4.41], ["2024-01-15", 4.26], ["2024-01-19", 3.93], ["2024-01-22", 3.76],
  ["2024-01-27", 3.59], ["2024-02-01", 3.36], ["2024-02-06", 3.33], ["2024-02-18", 3.39], ["2024-02-20", 3.33],
  ["2024-02-25", 3.51], ["2024-03-04", 3.62], ["2024-03-09", 3.62], ["2024-03-12", 3.55], ["2024-03-17", 3.73],
  ["2024-03-24", 3.7],
];

// ---------- helpers ----------
const toTime = (s: string): number => {
  const [y, m, d] = s.split("-").map(Number);
  return Date.UTC(y, m - 1, d);
};
const pad = (n: number) => (n < 10 ? "0" + n : "" + n);
const fmtDate = (t: number): string => {
  const d = new Date(t);
  return `${d.getUTCFullYear()}-${pad(d.getUTCMonth() + 1)}-${pad(d.getUTCDate())}`;
};

const LABEL_COLOR = "#595959";
const GRID_COLOR = "#D9D9D9";
const LABEL_FONT = "'Open Sans', 'Liberation Sans', sans-serif";
const TITLE_FONT = "'Liberation Sans', 'Noto Sans CJK SC', sans-serif";
const TITLE_PITCH = 41;

export default function App() {
  const ref = useRef<HTMLDivElement>(null);

  useEffect(() => {
    if (!ref.current) return;
    const chart = echarts.init(ref.current, undefined, { renderer: "svg" });
    const tickTimes = tickDates.map(toTime);

    const mkSeries = (name: string, data: [string, number][], color: string) => ({
      name,
      type: "line",
      data: data.map(([d, v]) => [toTime(d), v]),
      symbol: "none",
      showSymbol: false,
      lineStyle: { color, width: 5, join: "round", cap: "round" },
      itemStyle: { color },
      emphasis: { disabled: true },
    });

    const titleChars = yTitle.split("");
    const titleElems = titleChars.map((ch, i) => ({
      type: "text",
      x: 34,
      y: 92 + i * TITLE_PITCH,
      silent: true,
      style: {
        text: ch,
        fill: LABEL_COLOR,
        font: `35px ${TITLE_FONT}`,
        textAlign: "center",
        textVerticalAlign: "middle",
        align: "center",
        verticalAlign: "middle",
      },
    }));

    chart.setOption({
      animation: false,
      backgroundColor: "#ffffff",
      grid: { left: 153, right: 0, top: 28, bottom: 229, containLabel: false },
      xAxis: {
        type: "value",
        min: toTime(startDate),
        max: toTime(endDate),
        axisLine: { show: true, lineStyle: { color: GRID_COLOR, width: 2 } },
        axisTick: {
          show: true,
          length: 13,
          lineStyle: { color: GRID_COLOR, width: 2 },
          customValues: tickTimes,
        },
        axisLabel: {
          customValues: tickTimes,
          rotate: 90,
          margin: 28,
          color: LABEL_COLOR,
          fontSize: 37,
          fontFamily: LABEL_FONT,
          hideOverlap: false,
          showMinLabel: true,
          showMaxLabel: true,
          formatter: (v: number) => fmtDate(v),
        },
        splitLine: { show: false },
      },
      yAxis: {
        type: "value",
        min: yTicks[0],
        max: yTicks[yTicks.length - 1],
        interval: 5,
        axisLine: { show: false },
        axisTick: { show: false },
        axisLabel: {
          color: LABEL_COLOR,
          fontSize: 36,
          fontFamily: LABEL_FONT,
          margin: 41,
        },
        splitLine: { show: true, lineStyle: { color: GRID_COLOR, width: 2 } },
      },
      graphic: [
        ...titleElems,
        {
          type: "text",
          x: 34,
          y: 664,
          rotation: -Math.PI / 2,
          silent: true,
          style: {
            text: yTitleUnit,
            fill: LABEL_COLOR,
            font: `35px ${TITLE_FONT}`,
            textAlign: "center",
            textVerticalAlign: "middle",
            align: "center",
            verticalAlign: "middle",
          },
        },
      ],
      series: [
        mkSeries("navy", navy, "#0B4391"),
        mkSeries("lightBlue", lightBlue, "#00B0F0"),
        mkSeries("orange", orange, "#F49B00"),
        mkSeries("red", red, "#FF0000"),
        mkSeries("purple", purple, "#7030A0"),
      ],
    });

    return () => chart.dispose();
  }, []);

  return (
    <div
      ref={ref}
      style={{ position: "fixed", left: 0, top: 0, width: 2417, height: 992, background: "#fff" }}
    />
  );
}
